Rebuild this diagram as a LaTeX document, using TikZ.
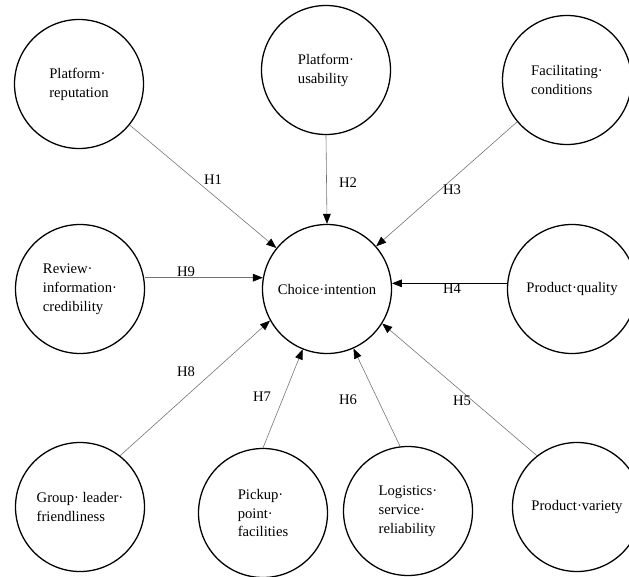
\documentclass[tikz,border=0pt]{standalone}
\usepackage{fontspec}
\setmainfont{Liberation Serif}
\usetikzlibrary{arrows.meta}

\begin{document}
\begin{tikzpicture}[x=0.3mm,y=-0.3mm,
            construct/.style={draw,circle,line width=1.1pt,minimum size=3.87cm,inner sep=0pt,align=left,font=\fontsize{12.5}{16.2}\selectfont},
            link/.style={draw=black!55,line width=0.5pt,-{Triangle[length=3mm,width=2.3mm,color=black]}},
            hyp/.style={inner sep=1pt,font=\fontsize{12.5}{15}\selectfont}]
            \useasboundingbox (0,0) rectangle (629,576);
            
            % Drawing the outer constructs
            \node [construct] (rep) at (79,84) {Platform·\\reputation};%
            \node [construct] (usab) at (326,70) {Platform·\\usability};%
            \node [construct] (fac) at (567,80) {Facilitating·\\conditions};%
            \node [construct] (review) at (80,289) {Review·\\information·\\credibility};%
            \node [construct] (quality) at (572,289) {Product·quality};%
            \node [construct] (group) at (80,507) {Group·\ leader·\\friendliness};%
            \node [construct] (pickup) at (263,513) {Pickup·\\point·\\facilities};%
            \node [construct] (logist) at (408,511) {Logistics·\\service·\\reliability};%
            \node [construct] (variety) at (577,507) {Product·variety};%
            
            % Drawing the dependent construct
            \node [construct] (choice) at (327,289) {Choice·intention};%
            
            % Drawing hypothesis paths
            \draw [link] (rep.321) -- (choice.141);%
            \draw [link] (usab.south) -- (choice.north);%
            \draw [link] (fac.220) -- (choice.41);%
            \draw [link,draw=black,line width=0.6pt] (quality.west |- choice.5) -- (choice.5);%
            \draw [link] (variety.128) -- (choice.328);%
            \draw [link] (logist.97) -- (choice.294);%
            \draw [link] (pickup.north) -- (choice.248);%
            \draw [link] (group.52) -- (choice.209);%
            \draw [link] (review.east |- choice.170) -- (choice.170);%
            
            % Marking hypotheses
            \node [hyp] (h1) at (213,180) {H1};%
            \node [hyp] (h2) at (348,183) {H2};%
            \node [hyp] (h3) at (452,190) {H3};%
            \node [hyp] (h4) at (452,289) {H4};%
            \node [hyp] (h5) at (462,401) {H5};%
            \node [hyp] (h6) at (348,400) {H6};%
            \node [hyp] (h7) at (262,397) {H7};%
            \node [hyp] (h8) at (186,372) {H8};%
            \node [hyp] (h9) at (186,272) {H9};%
            
        \end{tikzpicture}
\end{document}
